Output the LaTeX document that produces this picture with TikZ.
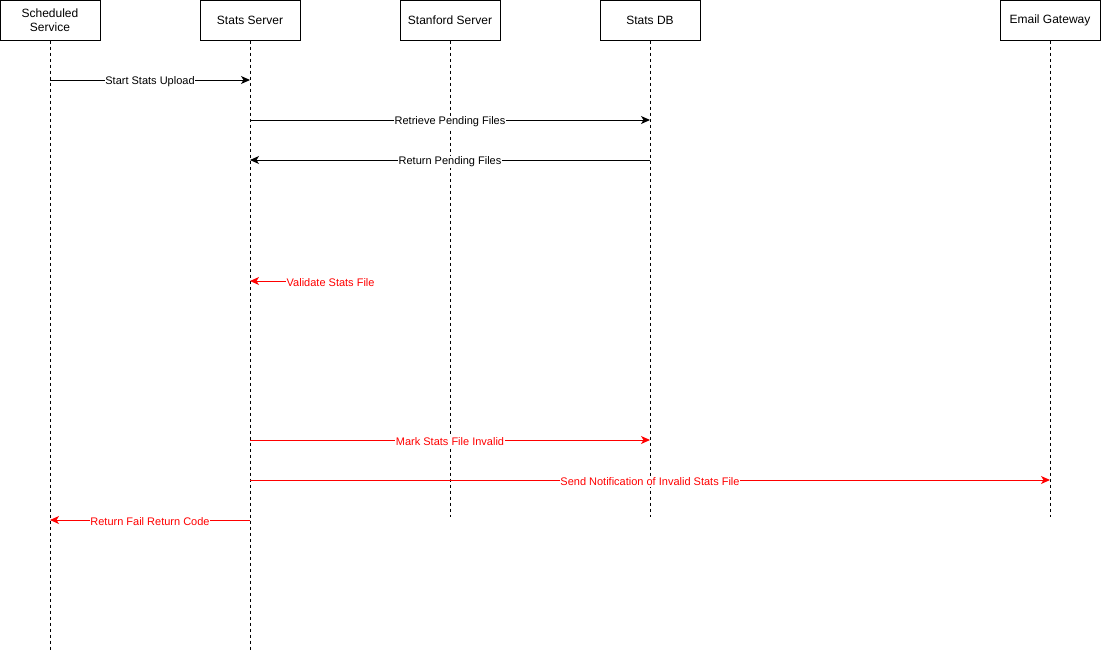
\documentclass[tikz,border=0pt]{standalone}
\usepackage{fontspec}
\setmainfont{Liberation Sans}
\usetikzlibrary{arrows.meta}
\definecolor{msgred}{RGB}{255,0,0}
\begin{document}
\begin{tikzpicture}[x=1pt,y=-1pt,
  actor/.style={draw=black,line width=1pt,fill=white,minimum width=100pt,minimum height=40pt,
    inner sep=0pt,align=center,font=\fontsize{12}{14}\selectfont},
  life/.style={line width=1pt,dash pattern=on 3pt off 3pt},
  msg/.style={line width=1pt,-{Stealth[length=9pt,width=8pt,inset=2.5pt]}},
  lbl/.style={fill=white,inner sep=0.5pt,yshift=-2pt,font=\fontsize{11}{13}\selectfont},
  red msg/.style={msg,draw=msgred},
  red lbl/.style={lbl,text=msgred}]
\useasboundingbox (0,0) rectangle (1101,651);

% participant boxes
\node[actor] (sched) at (50,20) {Scheduled\\Service};
\node[actor] (stats) at (250,20) {Stats Server};
\node[actor] (stan)  at (450,20) {Stanford Server};
\node[actor] (db)    at (650,20) {Stats DB};
\node[actor] (mail)  at (1050,20) {Email Gateway};

% lifeline ends
\coordinate (schedE) at (50,651);
\coordinate (statsE) at (250,651);
\coordinate (stanE)  at (450,517);
\coordinate (dbE)    at (650,517);
\coordinate (mailE)  at (1050,517);

\draw[life] (sched.south) -- (schedE);
\draw[life] (stats.south) -- (statsE);
\draw[life] (stan.south)  -- (stanE);
\draw[life] (db.south)    -- (dbE);
\draw[life] (mail.south)  -- (mailE);

% message anchor points on the lifelines
\coordinate (a1) at (50,80);   \coordinate (b1) at (250,80);
\coordinate (a2) at (250,120); \coordinate (b2) at (650,120);
\coordinate (a3) at (650,160); \coordinate (b3) at (250,160);
\coordinate (a4) at (286,281); \coordinate (b4) at (250,281);
\coordinate (a5) at (250,440); \coordinate (b5) at (650,440);
\coordinate (a6) at (250,480); \coordinate (b6) at (1050,480);
\coordinate (a7) at (250,520); \coordinate (b7) at (50,520);

% messages
\draw[msg] (a1) -- node[lbl] (m1) {Start Stats Upload} (b1);
\draw[msg] (a2) -- node[lbl] (m2) {Retrieve Pending Files} (b2);
\draw[msg] (a3) -- node[lbl] (m3) {Return Pending Files} (b3);
\draw[red msg] (a4) -- (b4);
\node[red lbl,anchor=west] (m4) at (a4) {Validate Stats File};
\draw[red msg] (a5) -- node[red lbl] (m5) {Mark Stats File Invalid} (b5);
\draw[red msg] (a6) -- node[red lbl] (m6) {Send Notification of Invalid Stats File} (b6);
\draw[red msg] (a7) -- node[red lbl] (m7) {Return Fail Return Code} (b7);
\end{tikzpicture}
\end{document}
